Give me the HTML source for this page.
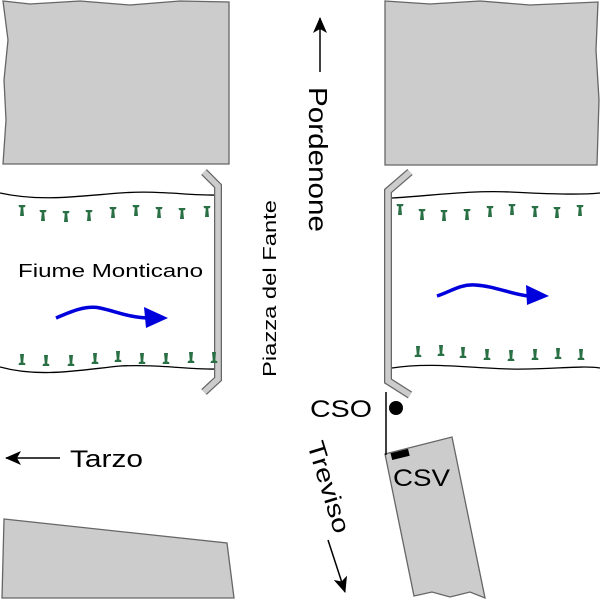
<!DOCTYPE html>
<html><head><style>body{margin:0;background:#fff}svg{display:block}</style></head>
<body>
<svg width="600" height="600" viewBox="0 0 600 600" xmlns="http://www.w3.org/2000/svg" font-family="Liberation Sans, Arial, sans-serif">
<defs>
<marker id="ah" markerWidth="16" markerHeight="14" refX="15" refY="7" orient="auto" markerUnits="userSpaceOnUse"><path d="M0,0 L16,7 L0,14 L4,7 Z" fill="#000"/></marker>
<g id="pt"><path d="M-3.5,0 L3.5,0 L3,2 L1.2,2.5 L2,11 L-2,11 L-1.2,2.5 L-3,2 Z" fill="#2a7045"/></g>
<g id="pb"><path d="M-3.5,0 L3.5,0 L3,-2 L1.2,-2.5 L2,-11 L-2,-11 L-1.2,-2.5 L-3,-2 Z" fill="#2a7045"/></g>
</defs>
<path d="M3,1 L30,4 L80,1 L130,5 L180,1 L229,2 L229,164 L3,164 L6,120 L4,80 L8,40 Z" fill="#cccccc" stroke="#666" stroke-width="1.3"/>
<path d="M385,1 L430,4 L480,1 L530,5 L598,2 L596,50 L599,100 L597,165 L385,165 Z" fill="#cccccc" stroke="#666" stroke-width="1.3"/>
<path d="M4,519 L227,543 L234,598 L2,598 Z" fill="#cccccc" stroke="#666" stroke-width="1.3"/>
<path d="M385,454 L452,437 L485,598 L470,592 L450,597 L432,592 L414,596 Z" fill="#cccccc" stroke="#666" stroke-width="1.3"/>
<path d="M0,193 C40,202 80,196 120,193 C160,190 190,196 220,195" fill="none" stroke="#000" stroke-width="1.3"/>
<path d="M0,367 C40,378 80,370 120,366 C160,364 190,370 220,369" fill="none" stroke="#000" stroke-width="1.3"/>
<path d="M392,198 C430,196 470,190 510,192 C550,194 580,195 600,193" fill="none" stroke="#000" stroke-width="1.3"/>
<path d="M392,368 C430,362 470,368 510,369 C550,370 580,365 600,368" fill="none" stroke="#000" stroke-width="1.3"/>
<path d="M204,172 L218,186 L218,379 L204,392" fill="none" stroke="#666" stroke-width="8"/>
<path d="M204,172 L218,186 L218,379 L204,392" fill="none" stroke="#cccccc" stroke-width="5.5"/>
<path d="M410,172 L388,191 L388,381 L410,395" fill="none" stroke="#666" stroke-width="8"/>
<path d="M410,172 L388,191 L388,381 L410,395" fill="none" stroke="#cccccc" stroke-width="5.5"/>
<g>
<use href="#pt" x="22" y="205"/><use href="#pt" x="43" y="210"/><use href="#pt" x="66" y="211"/><use href="#pt" x="89" y="210"/><use href="#pt" x="113" y="207"/><use href="#pt" x="136" y="205"/><use href="#pt" x="159" y="207"/><use href="#pt" x="182" y="208"/><use href="#pt" x="207" y="206"/>
<use href="#pb" x="22" y="365"/><use href="#pb" x="46" y="366"/><use href="#pb" x="71" y="366"/><use href="#pb" x="95" y="364"/><use href="#pb" x="118" y="362"/><use href="#pb" x="142" y="364"/><use href="#pb" x="166" y="364"/><use href="#pb" x="191" y="363"/><use href="#pb" x="214" y="363"/>
<use href="#pt" x="400" y="204"/><use href="#pt" x="422" y="209"/><use href="#pt" x="444" y="210"/><use href="#pt" x="467" y="209"/><use href="#pt" x="490" y="206"/><use href="#pt" x="512" y="204"/><use href="#pt" x="535" y="206"/><use href="#pt" x="557" y="207"/><use href="#pt" x="580" y="205"/>
<use href="#pb" x="418" y="357"/><use href="#pb" x="441" y="356"/><use href="#pb" x="463" y="358"/><use href="#pb" x="487" y="360"/><use href="#pb" x="511" y="361"/><use href="#pb" x="535" y="360"/><use href="#pb" x="558" y="359"/><use href="#pb" x="581" y="360"/>
</g>
<path d="M56,318 C70,312 85,305 100,308 C115,311 130,318 150,318" fill="none" stroke="#0000dd" stroke-width="3.5"/>
<path d="M144,307 L168,318 L146,328 Z" fill="#0000dd"/>
<path d="M437,296 C450,292 460,284 475,285 C495,286 510,294 528,296" fill="none" stroke="#0000dd" stroke-width="3.5"/>
<path d="M526,285 L549,296 L527,305 Z" fill="#0000dd"/>
<text x="18" y="277" font-size="18" textLength="185" lengthAdjust="spacingAndGlyphs">Fiume Monticano</text>
<text transform="translate(276,377) rotate(-90)" font-size="18" textLength="177" lengthAdjust="spacingAndGlyphs">Piazza del Fante</text>
<text transform="translate(309,87) rotate(90)" font-size="26" textLength="145" lengthAdjust="spacingAndGlyphs">Pordenone</text>
<line x1="320" y1="72" x2="320" y2="18" stroke="#000" stroke-width="1.5" marker-end="url(#ah)"/>
<text x="70" y="467" font-size="24" textLength="73" lengthAdjust="spacingAndGlyphs">Tarzo</text>
<line x1="60" y1="458" x2="6" y2="458" stroke="#000" stroke-width="1.5" marker-end="url(#ah)"/>
<text x="310" y="417" font-size="24" textLength="62" lengthAdjust="spacingAndGlyphs">CSO</text>
<circle cx="396" cy="408" r="7" fill="#000"/>
<line x1="386" y1="392" x2="386" y2="455" stroke="#000" stroke-width="1.5"/>
<rect x="391" y="451" width="18" height="7" fill="#000" transform="rotate(-14 400 454)"/>
<text x="393" y="486" font-size="24" textLength="57" lengthAdjust="spacingAndGlyphs">CSV</text>
<text transform="translate(307,444) rotate(73)" font-size="24" textLength="95" lengthAdjust="spacingAndGlyphs">Treviso</text>
<line x1="328" y1="540" x2="345" y2="592" stroke="#000" stroke-width="1.5" marker-end="url(#ah)"/>
</svg>
</body></html>
